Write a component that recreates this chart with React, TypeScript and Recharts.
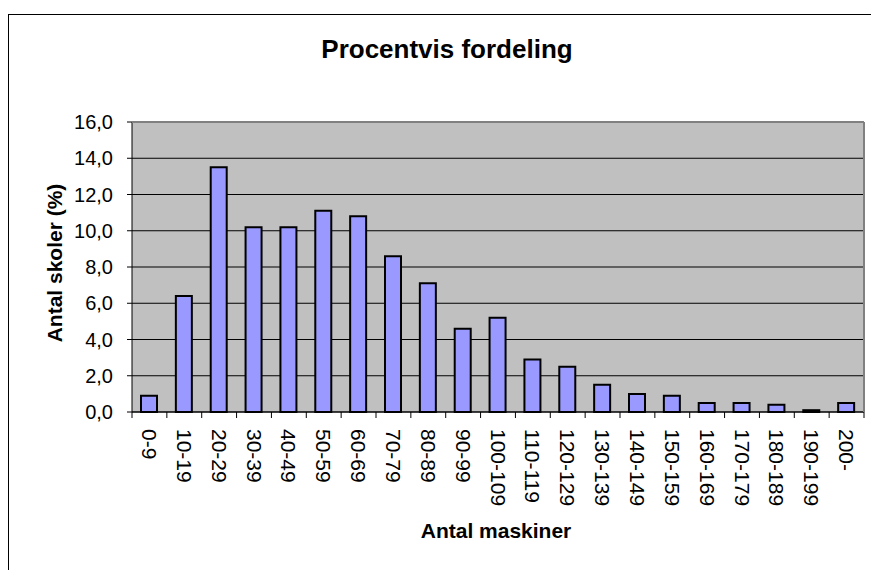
import { BarChart, Bar, XAxis, YAxis, CartesianGrid } from "recharts";

const categories = [
  "0-9", "10-19", "20-29", "30-39", "40-49", "50-59", "60-69", "70-79",
  "80-89", "90-99", "100-109", "110-119", "120-129", "130-139", "140-149",
  "150-159", "160-169", "170-179", "180-189", "190-199", "200-",
];
const shares = [
  0.9, 6.4, 13.5, 10.2, 10.2, 11.1, 10.8, 8.6, 7.1, 4.6, 5.2, 2.9, 2.5, 1.5,
  1.0, 0.9, 0.5, 0.5, 0.4, 0.1, 0.5,
];
const yTicks = [0, 2, 4, 6, 8, 10, 12, 14, 16];

const data = categories.map((c, i) => ({ cat: c, value: shares[i] }));

const W = 871;
const H = 570;
const PLOT = { left: 132, top: 122, right: 864, bottom: 412 };
const Y_AXIS_W = 60;
const X_AXIS_H = 40;
const BAND = (PLOT.right - PLOT.left) / categories.length;
const FONT = '"Liberation Sans", Arial, sans-serif';

function CategoryTick(props: any) {
  const { x, y, payload, index } = props;
  const left = x - BAND / 2;
  return (
    <g>
      <line x1={left} y1={y} x2={left} y2={y + 6} stroke="#000" />
      {index === categories.length - 1 && (
        <line x1={x + BAND / 2} y1={y} x2={x + BAND / 2} y2={y + 6} stroke="#000" />
      )}
      <text
        x={x}
        y={y + 17}
        transform={`rotate(90, ${x}, ${y + 17})`}
        textAnchor="start"
        dominantBaseline="central"
        fontSize={21}
        fontFamily={FONT}
        fill="#000"
      >
        {payload.value}
      </text>
    </g>
  );
}

export default function App() {
  return (
    <div style={{ position: "absolute", left: 0, top: 0, width: W, height: H, overflow: "hidden", background: "#fff" }}>
      <div
        style={{
          position: "absolute",
          left: 8,
          top: 14,
          width: W,
          height: H,
          borderLeft: "1.5px solid #000",
          borderTop: "1.5px solid #000",
        }}
      />
      <div style={{ position: "absolute", left: 0, top: 0 }}>
        <BarChart
          width={W}
          height={H}
          data={data}
          barSize={16}
          margin={{
            top: PLOT.top,
            right: W - PLOT.right,
            bottom: H - PLOT.bottom - X_AXIS_H,
            left: PLOT.left - Y_AXIS_W,
          }}
        >
          <CartesianGrid vertical={false} stroke="#000" fill="#C0C0C0" fillOpacity={1} />
          <XAxis
            dataKey="cat"
            interval={0}
            tickLine={false}
            tickSize={0}
            tickMargin={0}
            height={X_AXIS_H}
            axisLine={{ stroke: "#000" }}
            tick={<CategoryTick />}
          />
          <YAxis
            width={Y_AXIS_W}
            domain={[0, 16]}
            ticks={yTicks}
            interval={0}
            tickSize={5}
            tickMargin={14}
            axisLine={{ stroke: "#000" }}
            tickLine={{ stroke: "#000" }}
            tick={{ fill: "#000", fontSize: 20, fontFamily: FONT }}
            tickFormatter={(v: number) => v.toFixed(1).replace(".", ",")}
          />
          <Bar
            dataKey="value"
            fill="#9999FF"
            stroke="#000"
            strokeWidth={2}
            isAnimationActive={false}
          />
        </BarChart>
      </div>
      <svg
        width={W}
        height={H}
        style={{ position: "absolute", left: 0, top: 0, pointerEvents: "none" }}
      >
        <line x1={PLOT.left} y1={PLOT.top} x2={PLOT.right} y2={PLOT.top} stroke="#808080" strokeWidth={2} />
        <line x1={PLOT.right} y1={PLOT.top} x2={PLOT.right} y2={PLOT.bottom} stroke="#808080" strokeWidth={2} />
        <text x={447} y={58} textAnchor="middle" fontSize={26} fontWeight="bold" fontFamily={FONT} fill="#000">
          Procentvis fordeling
        </text>
        <text x={496} y={538} textAnchor="middle" fontSize={21} fontWeight="bold" fontFamily={FONT} fill="#000">
          Antal maskiner
        </text>
        <text
          x={54}
          y={263}
          transform="rotate(-90, 54, 263)"
          textAnchor="middle"
          dominantBaseline="central"
          fontSize={21}
          fontWeight="bold"
          fontFamily={FONT}
          fill="#000"
        >
          Antal skoler (%)
        </text>
      </svg>
    </div>
  );
}
